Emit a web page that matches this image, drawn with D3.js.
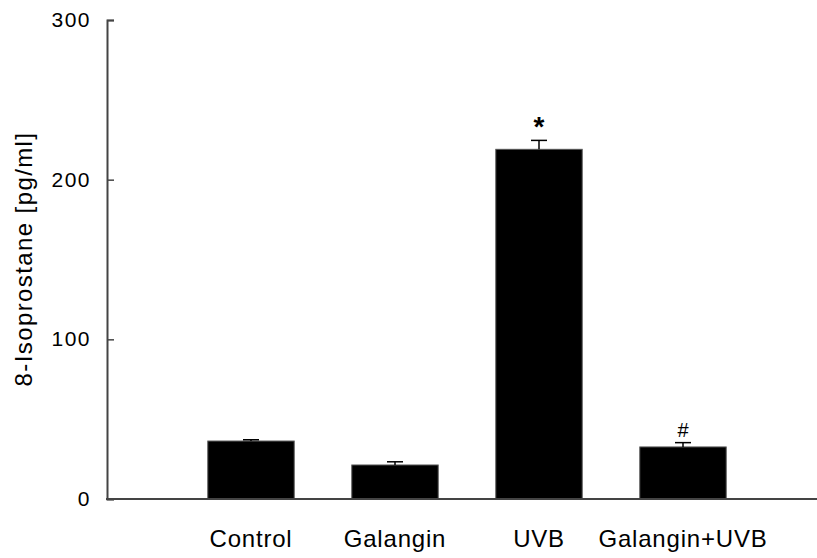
<!DOCTYPE html>
<html>
<head>
<meta charset="utf-8">
<script src="https://cdn.jsdelivr.net/npm/d3@7"></script>
<style>
  body { margin: 0; background: #fff; }
  text { font-family: "Liberation Sans", Arial, sans-serif; fill: #000; }
</style>
</head>
<body>
<script>
'use strict';

// chart values
let categories = ["Control", "Galangin", "UVB", "Galangin+UVB"];
let means = [36.3, 21.3, 219, 32.6];
let errors = [0.8, 2.0, 5.6, 2.7];
let marks = ["", "", "*", "#"];
let yTicks = [0, 100, 200, 300];

(function() {
  let svg = d3.select("body")
    .append("svg")
    .attr("width", 817)
    .attr("height", 558);

  // x positions: slots 1..4 on a 0..5 line
  let xScale = d3.scaleLinear()
    .domain([0, 5])
    .range([107, 827]);
  let barWidth = (xScale(1) - xScale(0)) * 0.6;

  let yScale = d3.scaleLinear()
    .domain([0, 300])
    .range([499, 20]);

  // bars
  svg.selectAll(".bar")
    .data(means)
    .enter()
    .append("rect")
      .attr("x", (d, i) => xScale(i + 1) - barWidth / 2)
      .attr("y", (d) => yScale(d))
      .attr("width", barWidth)
      .attr("height", (d) => yScale(0) - yScale(d))
      .attr("fill", "#000")
      .attr("stroke", "#555")
      .attr("stroke-width", 1);

  // error bars (upper only)
  let capW = 16;
  means.forEach((m, i) => {
    let cx = xScale(i + 1);
    svg.append("line")
      .attr("x1", cx).attr("x2", cx)
      .attr("y1", yScale(m)).attr("y2", yScale(m + errors[i]))
      .attr("stroke", "#000").attr("stroke-width", 1.5);
    svg.append("line")
      .attr("x1", cx - capW / 2).attr("x2", cx + capW / 2)
      .attr("y1", yScale(m + errors[i])).attr("y2", yScale(m + errors[i]))
      .attr("stroke", "#000").attr("stroke-width", 1.5);
    if (marks[i]) {
      svg.append("text")
        .attr("x", cx)
        .attr("y", yScale(m + errors[i]) - 6)
        .attr("text-anchor", "middle")
        .style("font-size", marks[i] == "*" ? "28px" : "20px")
        .style("font-weight", marks[i] == "*" ? "bold" : "normal")
        .attr("dy", marks[i] == "*" ? "0.55em" : "0")
        .attr("transform", marks[i] == "*" ? "translate(0,-14)" : null)
        .text(marks[i]);
    }
  });

  // y axis with inward ticks
  let yAxis = d3.axisRight(yScale)
    .tickValues(yTicks)
    .tickSize(7)
    .tickFormat("");
  let gy = svg.append("g")
    .attr("transform", "translate(107, 0)")
    .call(yAxis);
  gy.select(".domain").attr("stroke", "#444").attr("stroke-width", 2);
  gy.selectAll(".tick line").attr("stroke", "#444").attr("stroke-width", 1.5);

  svg.selectAll(".ylab")
    .data(yTicks)
    .enter()
    .append("text")
      .attr("x", 91)
      .attr("y", (d) => yScale(d) + 7)
      .attr("text-anchor", "end")
      .style("font-size", "21px")
      .style("letter-spacing", "1.5px")
      .text((d) => d);

  // x axis line
  svg.append("line")
    .attr("x1", 106).attr("x2", 817)
    .attr("y1", yScale(0)).attr("y2", yScale(0))
    .attr("stroke", "#444").attr("stroke-width", 2);

  // category labels
  svg.selectAll(".xlab")
    .data(categories)
    .enter()
    .append("text")
      .attr("x", (d, i) => xScale(i + 1))
      .attr("y", 547)
      .attr("text-anchor", "middle")
      .style("font-size", "24px")
      .style("letter-spacing", "0.8px")
      .text((d) => d);

  // y axis title
  svg.append("text")
    .attr("transform", "translate(32, 259)rotate(-90)")
    .attr("text-anchor", "middle")
    .style("font-size", "24px")
    .style("letter-spacing", "1.4px")
    .text("8-Isoprostane [pg/ml]");
})();
</script>
</body>
</html>
